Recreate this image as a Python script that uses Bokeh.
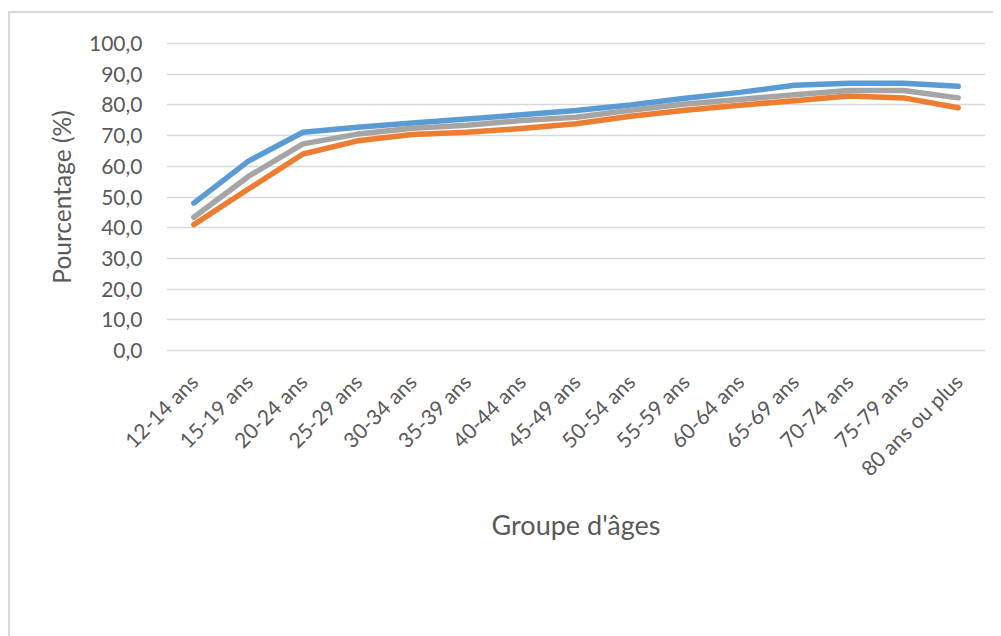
from bokeh.plotting import figure
from bokeh.models import Legend, LegendItem, FixedTicker
from bokeh.embed import file_html
from bokeh.resources import INLINE
from math import pi

categories = ["12-14 ans", "15-19 ans", "20-24 ans", "25-29 ans", "30-34 ans",
              "35-39 ans", "40-44 ans", "45-49 ans", "50-54 ans", "55-59 ans",
              "60-64 ans", "65-69 ans", "70-74 ans", "75-79 ans", "80 ans ou plus"]
urbain = [48.0, 61.7, 71.1, 72.7, 74.1, 75.4, 76.8, 78.2, 80.0, 82.2, 84.1, 86.4, 87.1, 87.1, 86.1]
rural = [41.0, 52.6, 64.0, 68.3, 70.4, 71.1, 72.3, 73.9, 76.3, 78.3, 79.9, 81.4, 82.9, 82.3, 79.1]
ensemble = [43.4, 56.7, 67.3, 70.5, 72.4, 73.4, 74.9, 76.0, 78.3, 80.3, 81.8, 83.3, 84.7, 84.7, 82.3]
y_ticks = [0, 10, 20, 30, 40, 50, 60, 70, 80, 90, 100]
y_tick_labels = ["0,0", "10,0", "20,0", "30,0", "40,0", "50,0", "60,0", "70,0", "80,0", "90,0", "100,0"]

FONT = "Lato"
TXT = "#595959"
GRID = "#D9D9D9"

p = figure(x_range=categories, y_range=(-1, 101), frame_width=819, frame_height=313,
           output_backend="svg", toolbar_location=None,
           min_border_left=166, min_border_right=8, min_border_top=40, min_border_bottom=230)
p.outline_line_color = None
p.background_fill_color = "white"
p.border_fill_color = None
p.styles = {
    "background": ("linear-gradient(#D9D9D9, #D9D9D9) 8px 11px / 1200px 2px no-repeat, "
                   "linear-gradient(#D9D9D9, #D9D9D9) 8px 11px / 2px 1200px no-repeat, white"),
}

# grid
p.xgrid.grid_line_color = None
p.ygrid.grid_line_color = GRID
p.ygrid.grid_line_width = 1.5
p.yaxis.ticker = FixedTicker(ticks=y_ticks)
p.yaxis.major_label_overrides = {t: l for t, l in zip(y_ticks, y_tick_labels)}

for ax in (p.xaxis, p.yaxis):
    ax.axis_line_color = None
    ax.major_tick_line_color = None
    ax.minor_tick_line_color = None
    ax.major_tick_out = 0
    ax.major_tick_in = 0
    ax.minor_tick_out = 0
    ax.minor_tick_in = 0
    ax.major_label_text_color = TXT
    ax.major_label_text_font = FONT
    ax.major_label_text_font_size = "21px"
    ax.axis_label_text_color = TXT
    ax.axis_label_text_font = FONT
    ax.axis_label_text_font_style = "normal"

p.yaxis.axis_label = "Pourcentage (%)"
p.yaxis.axis_label_text_font_size = "24.5px"
p.yaxis.major_label_standoff = 24
p.yaxis.axis_label_standoff = 10
p.xaxis.axis_label = "Groupe d'âges"
p.xaxis.axis_label_text_font_size = "27px"
p.xaxis.major_label_orientation = pi / 4
p.xaxis.major_label_standoff = 24
p.xaxis.axis_label_standoff = 16

series = [("Urbain", urbain, "#5B9BD5"), ("Rural", rural, "#ED7D31"), ("Ensemble", ensemble, "#A5A5A5")]
items = []
for name, vals, col in series:
    r = p.line(categories, vals, line_color=col, line_width=5.5,
               line_cap="round", line_join="round")
    items.append(LegendItem(label=name, renderers=[r]))

legend = Legend(items=items, orientation="horizontal", location="top_center",
                padding=0, margin=48, spacing=26, label_standoff=5,
                glyph_width=56, glyph_height=26, label_height=26,
                label_text_font=FONT, label_text_font_size="21.5px",
                label_text_color=TXT, border_line_color=None,
                background_fill_alpha=0,
                title=" ", title_location="right", title_standoff=120,
                title_text_font=FONT, title_text_font_size="21px")
p.add_layout(legend, "below")

open("out.html", "w").write(file_html(p, INLINE))
